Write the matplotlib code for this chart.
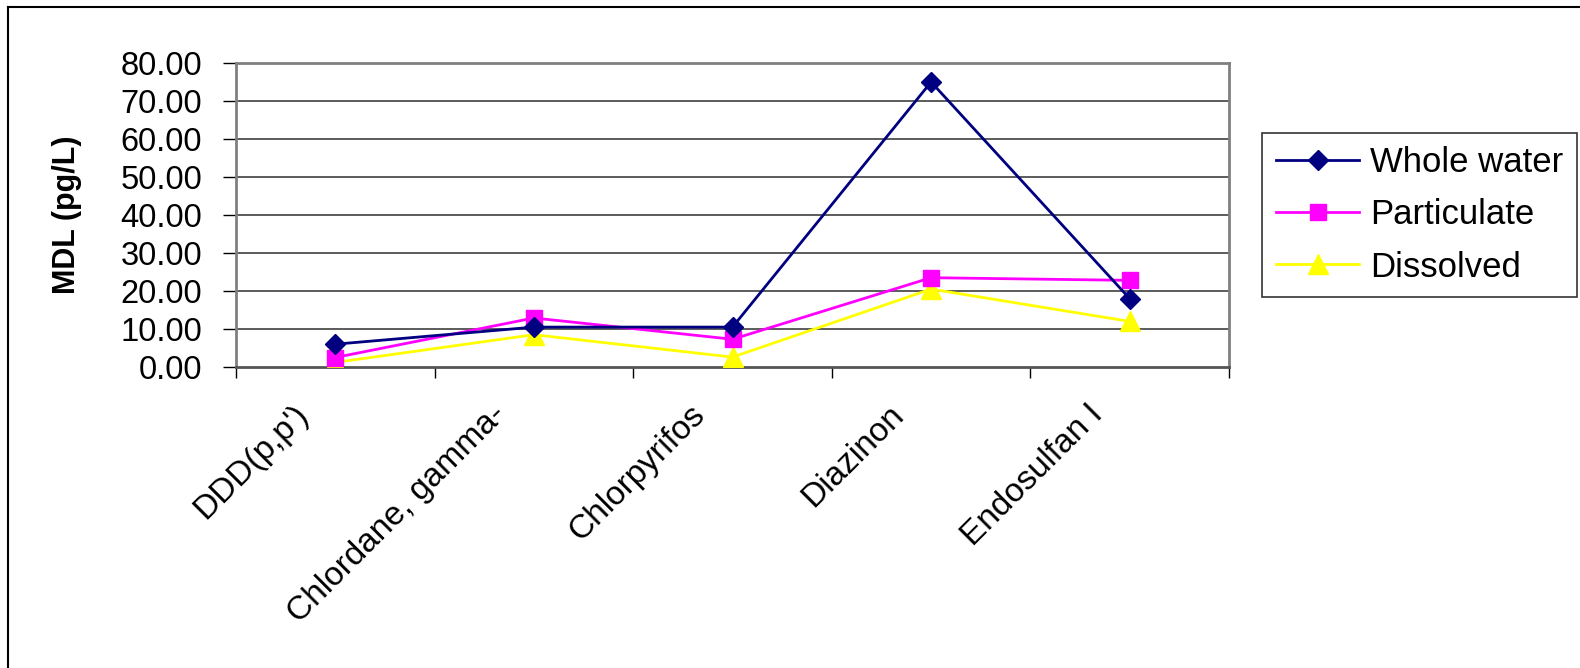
import matplotlib.pyplot as plt
from matplotlib.lines import Line2D
from matplotlib.transforms import ScaledTranslation

# data
compounds = ['DDD(p,p\')', 'Chlordane, gamma-', 'Chlorpyrifos', 'Diazinon', 'Endosulfan I']
whole_water = [6.0, 10.5, 10.5, 75.0, 18.0]
particulate = [2.5, 12.9, 7.3, 23.5, 22.8]
dissolved = [1.2, 8.5, 2.6, 20.5, 12.0]
y_ticks = [0, 10, 20, 30, 40, 50, 60, 70, 80]

plt.rcParams['font.family'] = ['Liberation Sans', 'DejaVu Sans']

fig = plt.figure(figsize=(15.8, 6.68), dpi=100)
ax = fig.add_axes([236 / 1580, 1 - 367 / 668, (1229 - 236) / 1580, (367 - 63) / 668])

xs = list(range(1, len(compounds) + 1))
ax.plot(xs, whole_water, color='#000080', lw=2, marker='D', ms=10,
        label='Whole water', zorder=5)
ax.plot(xs, particulate, color='#FF00FF', lw=2, marker='s', ms=12,
        label='Particulate', zorder=4)
ax.plot(xs, dissolved, color='#FFFF00', lw=2, marker='^', ms=15,
        label='Dissolved', zorder=3)

ax.set_xlim(0.5, len(compounds) + 0.5)
ax.set_ylim(0, 80)
ax.set_yticks(y_ticks)
ax.set_yticklabels(['%.2f' % v for v in y_ticks], fontsize=23.5)
ax.tick_params(axis='y', direction='out', length=9.5, width=1, pad=15, colors='black')
for v in y_ticks[1:]:
    ax.axhline(v, color='#404040', lw=1.2, zorder=1)

# category boundaries get the tick marks, labels sit at the centres
ax.set_xticks([x + 0.5 for x in range(len(compounds) + 1)], minor=True)
ax.tick_params(axis='x', which='minor', direction='out', length=8, width=1)
ax.set_xticks(xs)
ax.set_xticklabels(compounds, fontsize=24, rotation=45, ha='right', va='center',
                   rotation_mode='anchor')
ax.tick_params(axis='x', which='major', length=0, pad=31)
shift = ScaledTranslation(-0.32, 0, fig.dpi_scale_trans)
for lab in ax.get_xticklabels():
    lab.set_transform(lab.get_transform() + shift)

for side in ['top', 'right', 'left']:
    ax.spines[side].set_color('#808080')
    ax.spines[side].set_linewidth(2)
ax.spines['bottom'].set_color('#555555')
ax.spines['bottom'].set_linewidth(2)

ax.set_ylabel('MDL (pg/L)', fontsize=22, fontweight='bold')
ax.yaxis.set_label_coords((82 - 236) / (1229 - 236), 0.5)

leg = fig.legend(loc='center left', bbox_to_anchor=(1262 / 1580, 1 - 215 / 668),
                 fontsize=25, frameon=True, fancybox=False, handlelength=2.4,
                 handletextpad=0.3, labelspacing=0.55, borderpad=0.4,
                 borderaxespad=0)
leg.get_frame().set_edgecolor('black')
leg.get_frame().set_linewidth(1.2)

# outer chart border (only top and left survive in the crop)
fig.add_artist(Line2D([8 / 1580, 1], [1 - 7 / 668, 1 - 7 / 668], color='black', lw=1.5))
fig.add_artist(Line2D([8 / 1580, 8 / 1580], [0, 1 - 7 / 668], color='black', lw=1.5))

fig.savefig('out.png', dpi=100)
